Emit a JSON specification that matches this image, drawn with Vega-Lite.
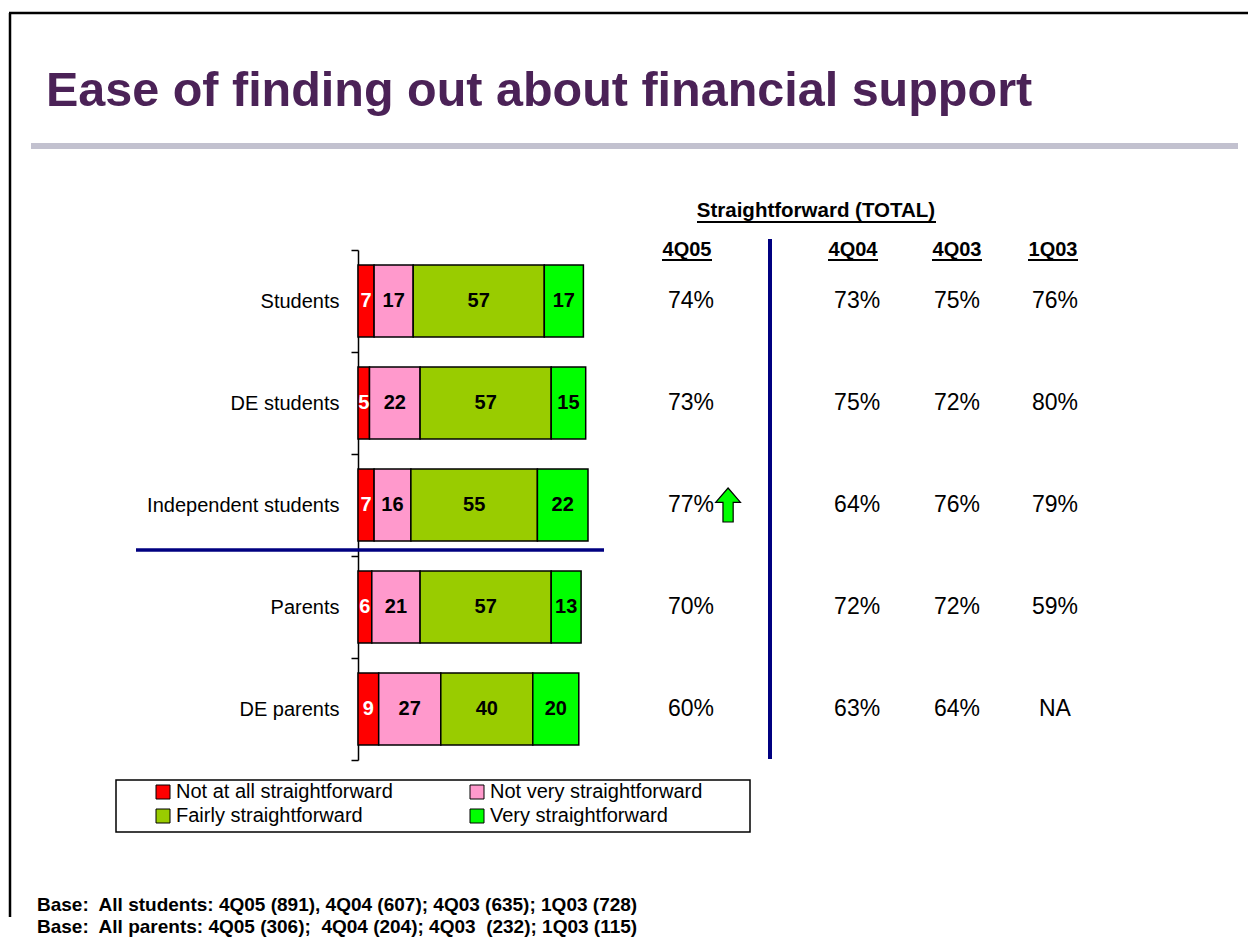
{
  "$schema": "https://vega.github.io/schema/vega-lite/v6.json",
  "width": 1248,
  "height": 944,
  "autosize": {"type": "none"},
  "padding": 0,
  "background": "white",
  "config": {"view": {"stroke": null}, "font": "Liberation Sans"},
  "datasets": {
    "bars": [
      {"group": "Students", "cat": "Not at all straightforward", "k": 1, "v": 7},
      {"group": "Students", "cat": "Not very straightforward", "k": 2, "v": 17},
      {"group": "Students", "cat": "Fairly straightforward", "k": 3, "v": 57},
      {"group": "Students", "cat": "Very straightforward", "k": 4, "v": 17},
      {"group": "DE students", "cat": "Not at all straightforward", "k": 1, "v": 5},
      {"group": "DE students", "cat": "Not very straightforward", "k": 2, "v": 22},
      {"group": "DE students", "cat": "Fairly straightforward", "k": 3, "v": 57},
      {"group": "DE students", "cat": "Very straightforward", "k": 4, "v": 15},
      {"group": "Independent students", "cat": "Not at all straightforward", "k": 1, "v": 7},
      {"group": "Independent students", "cat": "Not very straightforward", "k": 2, "v": 16},
      {"group": "Independent students", "cat": "Fairly straightforward", "k": 3, "v": 55},
      {"group": "Independent students", "cat": "Very straightforward", "k": 4, "v": 22},
      {"group": "Parents", "cat": "Not at all straightforward", "k": 1, "v": 6},
      {"group": "Parents", "cat": "Not very straightforward", "k": 2, "v": 21},
      {"group": "Parents", "cat": "Fairly straightforward", "k": 3, "v": 57},
      {"group": "Parents", "cat": "Very straightforward", "k": 4, "v": 13},
      {"group": "DE parents", "cat": "Not at all straightforward", "k": 1, "v": 9},
      {"group": "DE parents", "cat": "Not very straightforward", "k": 2, "v": 27},
      {"group": "DE parents", "cat": "Fairly straightforward", "k": 3, "v": 40},
      {"group": "DE parents", "cat": "Very straightforward", "k": 4, "v": 20}
    ],
    "table": [
      {"group": "Students", "q4_05": "74%", "q4_04": "73%", "q4_03": "75%", "q1_03": "76%"},
      {"group": "DE students", "q4_05": "73%", "q4_04": "75%", "q4_03": "72%", "q1_03": "80%"},
      {"group": "Independent students", "q4_05": "77%", "q4_04": "64%", "q4_03": "76%", "q1_03": "79%"},
      {"group": "Parents", "q4_05": "70%", "q4_04": "72%", "q4_03": "72%", "q1_03": "59%"},
      {"group": "DE parents", "q4_05": "60%", "q4_04": "63%", "q4_03": "64%", "q1_03": "NA"}
    ]
  },
  "layer": [
    {
      "layer": [
        {
          "data": {"name": "bars"},
          "transform": [
            {"stack": "v", "groupby": ["group"], "sort": [{"field": "k"}], "as": ["x0", "x1"]},
            {"calculate": "(datum.x0 + datum.x1) / 2", "as": "xm"}
          ],
          "encoding": {
            "y": {
              "field": "group", "type": "nominal",
              "scale": {"domain": ["Students", "DE students", "Independent students", "Parents", "DE parents"], "range": [250, 760], "paddingInner": 0, "paddingOuter": 0},
              "axis": {"title": null, "offset": -358, "domainColor": "black", "domainWidth": 1.5, "tickColor": "black", "tickWidth": 1.5, "tickSize": 7, "tickBand": "extent", "labelFontSize": 20, "labelColor": "black", "labelPadding": 12, "labelLimit": 400, "grid": false}
            }
          },
          "layer": [
            {
              "mark": {"type": "bar", "stroke": "black", "strokeWidth": 1.5, "height": {"band": 0.706}},
              "encoding": {
                "x": {"field": "x0", "type": "quantitative", "scale": {"domain": [-155.652, 386.957], "range": [0, 1248], "nice": false, "zero": false}, "axis": null},
                "x2": {"field": "x1"},
                "color": {
                  "field": "cat", "type": "nominal",
                  "scale": {"domain": ["Not at all straightforward", "Not very straightforward", "Fairly straightforward", "Very straightforward"], "range": ["#FF0000", "#FF99CC", "#99CC00", "#00FF00"]},
                  "legend": {"orient": "none", "legendX": 153, "legendY": 782, "direction": "horizontal", "columns": 2, "title": null, "symbolType": "square", "symbolSize": 196, "symbolStrokeColor": "black", "symbolStrokeWidth": 1, "labelFontSize": 20, "labelColor": "black", "columnPadding": 74, "rowPadding": 4, "labelOffset": 3, "padding": 0, "labelLimit": 400}
                }
              }
            },
            {
              "mark": {"type": "text", "fontSize": 20, "fontWeight": "bold"},
              "encoding": {
                "x": {"field": "xm", "type": "quantitative"},
                "text": {"field": "v", "type": "quantitative"},
                "color": {"condition": {"test": "datum.k === 1", "value": "white"}, "value": "black"}
              }
            }
          ]
        },
        {
          "data": {"name": "table"},
          "encoding": {
            "y": {
              "field": "group", "type": "nominal",
              "scale": {"domain": ["Students", "DE students", "Independent students", "Parents", "DE parents"], "range": [250, 760], "paddingInner": 0, "paddingOuter": 0},
              "axis": {"title": null, "offset": -358, "domainColor": "black", "domainWidth": 1.5, "tickColor": "black", "tickWidth": 1.5, "tickSize": 7, "tickBand": "extent", "labelFontSize": 20, "labelColor": "black", "labelPadding": 12, "labelLimit": 400, "grid": false}
            }
          },
          "layer": [
            {"mark": {"type": "text", "fontSize": 23, "color": "black"}, "encoding": {"x": {"datum": 144.8, "type": "quantitative"}, "text": {"field": "q4_05"}}},
            {"mark": {"type": "text", "fontSize": 23, "color": "black"}, "encoding": {"x": {"datum": 217.0, "type": "quantitative"}, "text": {"field": "q4_04"}}},
            {"mark": {"type": "text", "fontSize": 23, "color": "black"}, "encoding": {"x": {"datum": 260.4, "type": "quantitative"}, "text": {"field": "q4_03"}}},
            {"mark": {"type": "text", "fontSize": 23, "color": "black"}, "encoding": {"x": {"datum": 303.0, "type": "quantitative"}, "text": {"field": "q1_03"}}},
            {
              "transform": [{"filter": "datum.group === 'Independent students'"}],
              "mark": {"type": "point", "shape": "M0,-1 L0.73,-0.15 L0.3,-0.15 L0.3,1 L-0.3,1 L-0.3,-0.15 L-0.73,-0.15 Z", "size": 1156, "filled": true, "fill": "#00FF00", "stroke": "black", "strokeWidth": 1.2, "opacity": 1},
              "encoding": {"x": {"datum": 160.9, "type": "quantitative"}}
            }
          ]
        }
      ]
    },
    {
      "data": {"values": [{}]},
      "layer": [
        {"mark": {"type": "rule", "color": "black", "strokeWidth": 2.5}, "encoding": {"x": {"datum": 9, "type": "quantitative", "scale": {"domain": [0, 1248], "range": [0, 1248], "nice": false, "zero": false}, "axis": null}, "x2": {"datum": 1248}, "y": {"datum": 13, "type": "quantitative", "scale": {"domain": [0, 944], "range": [0, 944], "nice": false, "zero": false}, "axis": null}}},
        {"mark": {"type": "rule", "color": "black", "strokeWidth": 2.5}, "encoding": {"x": {"datum": 10, "type": "quantitative", "scale": {"domain": [0, 1248], "range": [0, 1248], "nice": false, "zero": false}, "axis": null}, "y": {"datum": 13, "type": "quantitative", "scale": {"domain": [0, 944], "range": [0, 944], "nice": false, "zero": false}, "axis": null}, "y2": {"datum": 917}}},
        {"mark": {"type": "rule", "color": "#C2C1CF", "strokeWidth": 6}, "encoding": {"x": {"datum": 31, "type": "quantitative", "scale": {"domain": [0, 1248], "range": [0, 1248], "nice": false, "zero": false}, "axis": null}, "x2": {"datum": 1238}, "y": {"datum": 146, "type": "quantitative", "scale": {"domain": [0, 944], "range": [0, 944], "nice": false, "zero": false}, "axis": null}}},
        {"mark": {"type": "text", "text": "Ease of finding out about financial support", "fontSize": 48.5, "fontWeight": "bold", "color": "#4B2257", "align": "left", "baseline": "alphabetic"}, "encoding": {"x": {"datum": 46, "type": "quantitative", "scale": {"domain": [0, 1248], "range": [0, 1248], "nice": false, "zero": false}, "axis": null}, "y": {"datum": 106, "type": "quantitative", "scale": {"domain": [0, 944], "range": [0, 944], "nice": false, "zero": false}, "axis": null}}},
        {"mark": {"type": "text", "text": "Straightforward (TOTAL)", "fontSize": 20.5, "fontWeight": "bold", "color": "black", "align": "center"}, "encoding": {"x": {"datum": 816, "type": "quantitative", "scale": {"domain": [0, 1248], "range": [0, 1248], "nice": false, "zero": false}, "axis": null}, "y": {"datum": 211, "type": "quantitative", "scale": {"domain": [0, 944], "range": [0, 944], "nice": false, "zero": false}, "axis": null}}},
        {"mark": {"type": "rule", "color": "black", "strokeWidth": 2}, "encoding": {"x": {"datum": 697, "type": "quantitative", "scale": {"domain": [0, 1248], "range": [0, 1248], "nice": false, "zero": false}, "axis": null}, "x2": {"datum": 936}, "y": {"datum": 222, "type": "quantitative", "scale": {"domain": [0, 944], "range": [0, 944], "nice": false, "zero": false}, "axis": null}}},
        {"mark": {"type": "text", "text": "4Q05", "fontSize": 20, "fontWeight": "bold", "color": "black", "align": "center"}, "encoding": {"x": {"datum": 687, "type": "quantitative", "scale": {"domain": [0, 1248], "range": [0, 1248], "nice": false, "zero": false}, "axis": null}, "y": {"datum": 250, "type": "quantitative", "scale": {"domain": [0, 944], "range": [0, 944], "nice": false, "zero": false}, "axis": null}}},
        {"mark": {"type": "text", "text": "4Q04", "fontSize": 20, "fontWeight": "bold", "color": "black", "align": "center"}, "encoding": {"x": {"datum": 853, "type": "quantitative", "scale": {"domain": [0, 1248], "range": [0, 1248], "nice": false, "zero": false}, "axis": null}, "y": {"datum": 250, "type": "quantitative", "scale": {"domain": [0, 944], "range": [0, 944], "nice": false, "zero": false}, "axis": null}}},
        {"mark": {"type": "text", "text": "4Q03", "fontSize": 20, "fontWeight": "bold", "color": "black", "align": "center"}, "encoding": {"x": {"datum": 957, "type": "quantitative", "scale": {"domain": [0, 1248], "range": [0, 1248], "nice": false, "zero": false}, "axis": null}, "y": {"datum": 250, "type": "quantitative", "scale": {"domain": [0, 944], "range": [0, 944], "nice": false, "zero": false}, "axis": null}}},
        {"mark": {"type": "text", "text": "1Q03", "fontSize": 20, "fontWeight": "bold", "color": "black", "align": "center"}, "encoding": {"x": {"datum": 1053, "type": "quantitative", "scale": {"domain": [0, 1248], "range": [0, 1248], "nice": false, "zero": false}, "axis": null}, "y": {"datum": 250, "type": "quantitative", "scale": {"domain": [0, 944], "range": [0, 944], "nice": false, "zero": false}, "axis": null}}},
        {"mark": {"type": "rule", "color": "black", "strokeWidth": 2}, "encoding": {"x": {"datum": 662, "type": "quantitative", "scale": {"domain": [0, 1248], "range": [0, 1248], "nice": false, "zero": false}, "axis": null}, "x2": {"datum": 712}, "y": {"datum": 260, "type": "quantitative", "scale": {"domain": [0, 944], "range": [0, 944], "nice": false, "zero": false}, "axis": null}}},
        {"mark": {"type": "rule", "color": "black", "strokeWidth": 2}, "encoding": {"x": {"datum": 828, "type": "quantitative", "scale": {"domain": [0, 1248], "range": [0, 1248], "nice": false, "zero": false}, "axis": null}, "x2": {"datum": 878}, "y": {"datum": 260, "type": "quantitative", "scale": {"domain": [0, 944], "range": [0, 944], "nice": false, "zero": false}, "axis": null}}},
        {"mark": {"type": "rule", "color": "black", "strokeWidth": 2}, "encoding": {"x": {"datum": 932, "type": "quantitative", "scale": {"domain": [0, 1248], "range": [0, 1248], "nice": false, "zero": false}, "axis": null}, "x2": {"datum": 982}, "y": {"datum": 260, "type": "quantitative", "scale": {"domain": [0, 944], "range": [0, 944], "nice": false, "zero": false}, "axis": null}}},
        {"mark": {"type": "rule", "color": "black", "strokeWidth": 2}, "encoding": {"x": {"datum": 1028, "type": "quantitative", "scale": {"domain": [0, 1248], "range": [0, 1248], "nice": false, "zero": false}, "axis": null}, "x2": {"datum": 1078}, "y": {"datum": 260, "type": "quantitative", "scale": {"domain": [0, 944], "range": [0, 944], "nice": false, "zero": false}, "axis": null}}},
        {"mark": {"type": "rule", "color": "#000080", "strokeWidth": 4}, "encoding": {"x": {"datum": 770, "type": "quantitative", "scale": {"domain": [0, 1248], "range": [0, 1248], "nice": false, "zero": false}, "axis": null}, "y": {"datum": 239, "type": "quantitative", "scale": {"domain": [0, 944], "range": [0, 944], "nice": false, "zero": false}, "axis": null}, "y2": {"datum": 759}}},
        {"mark": {"type": "rule", "color": "#000080", "strokeWidth": 3.5}, "encoding": {"x": {"datum": 136, "type": "quantitative", "scale": {"domain": [0, 1248], "range": [0, 1248], "nice": false, "zero": false}, "axis": null}, "x2": {"datum": 604}, "y": {"datum": 550, "type": "quantitative", "scale": {"domain": [0, 944], "range": [0, 944], "nice": false, "zero": false}, "axis": null}}},
        {"mark": {"type": "rect", "fill": null, "fillOpacity": 0, "stroke": "black", "strokeWidth": 1.5}, "encoding": {"x": {"datum": 116, "type": "quantitative", "scale": {"domain": [0, 1248], "range": [0, 1248], "nice": false, "zero": false}, "axis": null}, "x2": {"datum": 750}, "y": {"datum": 780, "type": "quantitative", "scale": {"domain": [0, 944], "range": [0, 944], "nice": false, "zero": false}, "axis": null}, "y2": {"datum": 832}}},
        {"mark": {"type": "text", "text": "Base:\u00a0 All students: 4Q05 (891), 4Q04 (607); 4Q03 (635); 1Q03 (728)", "fontSize": 19, "fontWeight": "bold", "color": "black", "align": "left"}, "encoding": {"x": {"datum": 37, "type": "quantitative", "scale": {"domain": [0, 1248], "range": [0, 1248], "nice": false, "zero": false}, "axis": null}, "y": {"datum": 905, "type": "quantitative", "scale": {"domain": [0, 944], "range": [0, 944], "nice": false, "zero": false}, "axis": null}}},
        {"mark": {"type": "text", "text": "Base:\u00a0 All parents: 4Q05 (306);\u00a0 4Q04 (204); 4Q03\u00a0 (232); 1Q03 (115)", "fontSize": 19, "fontWeight": "bold", "color": "black", "align": "left"}, "encoding": {"x": {"datum": 37, "type": "quantitative", "scale": {"domain": [0, 1248], "range": [0, 1248], "nice": false, "zero": false}, "axis": null}, "y": {"datum": 927, "type": "quantitative", "scale": {"domain": [0, 944], "range": [0, 944], "nice": false, "zero": false}, "axis": null}}}
      ]
    }
  ],
  "resolve": {"scale": {"x": "independent", "y": "independent"}}
}
